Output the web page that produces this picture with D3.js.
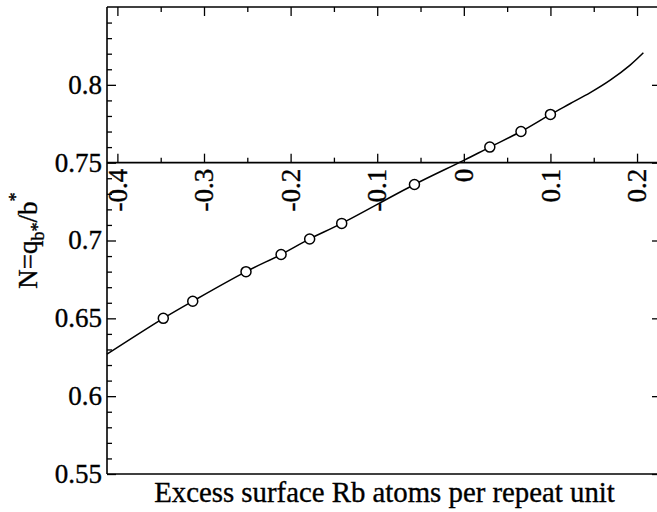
<!DOCTYPE html>
<html>
<head>
<meta charset="utf-8">
<script src="https://cdn.jsdelivr.net/npm/d3@7"></script>
<style>
  html, body { margin: 0; padding: 0; background: #fff; }
  svg { display: block; }
</style>
</head>
<body>
<svg width="657" height="512"></svg>
<script>
// fitted curve
const lineX = [-0.412, -0.347, -0.313, -0.2515, -0.211, -0.178, -0.141, -0.057, 0, 0.030, 0.066, 0.100, 0.123, 0.146, 0.169, 0.192, 0.2073];
const lineY = [0.627, 0.650, 0.661, 0.680, 0.691, 0.701, 0.711, 0.736, 0.7515, 0.760, 0.770, 0.781, 0.788, 0.795, 0.803, 0.8127, 0.8206];

// computed points (circles)
const pointX = [-0.347, -0.313, -0.2515, -0.211, -0.178, -0.141, -0.057, 0.030, 0.066, 0.100];
const pointY = [0.650, 0.661, 0.680, 0.691, 0.701, 0.711, 0.736, 0.760, 0.770, 0.781];

// ticks
const xMajor = [-0.4, -0.3, -0.2, -0.1, 0, 0.1, 0.2];
const xTickLabels = ["-0.4", "-0.3", "-0.2", "-0.1", "0", "0.1", "0.2"];
const xMinor = [-0.35, -0.25, -0.15, -0.05, 0.05, 0.15];
const yMajor = [0.55, 0.6, 0.65, 0.7, 0.75, 0.8];
const yTickLabels = ["0.55", "0.6", "0.65", "0.7", "0.75", "0.8"];
const yMinor = [0.56, 0.57, 0.58, 0.59, 0.61, 0.62, 0.63, 0.64, 0.66, 0.67, 0.68, 0.69,
                0.71, 0.72, 0.73, 0.74, 0.76, 0.77, 0.78, 0.79, 0.81, 0.82, 0.83, 0.84];

const serif = '"Liberation Serif", "Times New Roman", serif';
const svg = d3.select("svg");
const pLeft = 107, pRight = 658, pTop = 7, pBottom = 474;

const x = d3.scaleLinear().domain([-0.412, 0.2242]).range([pLeft, pRight]);
const y = d3.scaleLinear().domain([0.55, 0.85]).range([pBottom, pTop]);
const yAxisPos = y(0.75);

function plain(g) {
    g.select(".domain").remove();
    g.selectAll(".tick line").attr("stroke", "#000").attr("stroke-width", 1.3);
    g.selectAll(".tick text").remove();
}

// slightly heavier glyphs, like the scanned original
function ink(sel) {
    sel.style("font-family", serif)
        .attr("fill", "#000")
        .attr("stroke", "#000")
        .attr("stroke-width", 0.35);
}

// left axis ticks (pointing inward)
svg.append("g")
    .attr("transform", `translate(${pLeft},0)`)
    .call(d3.axisLeft(y).tickValues(yMinor).tickSize(-5))
    .call(plain);
svg.append("g")
    .attr("transform", `translate(${pLeft},0)`)
    .call(d3.axisLeft(y).tickValues(yMajor).tickSize(-9))
    .call(plain);

svg.append("g").selectAll("text")
    .data(yMajor)
    .join("text")
    .attr("x", pLeft - 5)
    .attr("y", d => y(d))
    .attr("dy", "0.33em")
    .attr("text-anchor", "end")
    .style("font-size", "27px")
    .call(ink)
    .text((d, i) => yTickLabels[i]);

// right axis, majors only
svg.append("g")
    .attr("transform", `translate(${pRight},0)`)
    .call(d3.axisRight(y).tickValues(yMajor).tickSize(-6))
    .call(plain);

// top ticks
svg.append("g")
    .attr("transform", `translate(0,${pTop})`)
    .call(d3.axisTop(x).tickValues(xMinor).tickSize(-5))
    .call(plain);
svg.append("g")
    .attr("transform", `translate(0,${pTop})`)
    .call(d3.axisTop(x).tickValues(xMajor).tickSize(-9))
    .call(plain);

// x axis drawn across the middle at 0.75
svg.append("g")
    .attr("transform", `translate(0,${yAxisPos})`)
    .call(d3.axisTop(x).tickValues(xMinor).tickSize(5))
    .call(plain);
svg.append("g")
    .attr("transform", `translate(0,${yAxisPos})`)
    .call(d3.axisTop(x).tickValues(xMajor).tickSize(9))
    .call(plain);

svg.append("g").selectAll("text")
    .data(xMajor)
    .join("text")
    .attr("transform", d => `translate(${x(d)},${yAxisPos + 6}) rotate(-90)`)
    .attr("text-anchor", "end")
    .attr("dy", "0.34em")
    .style("font-size", "27px")
    .call(ink)
    .text((d, i) => xTickLabels[i]);

// frame lines
const frame = svg.append("g").attr("stroke", "#000").attr("stroke-width", 1.6).attr("fill", "none");
frame.append("line").attr("x1", pLeft).attr("x2", pLeft).attr("y1", pTop).attr("y2", pBottom);
frame.append("line").attr("x1", pLeft).attr("x2", pRight).attr("y1", pTop).attr("y2", pTop);
frame.append("line").attr("x1", pLeft).attr("x2", pRight).attr("y1", pBottom).attr("y2", pBottom);
frame.append("line").attr("x1", pRight).attr("x2", pRight).attr("y1", pTop).attr("y2", pBottom);
frame.append("line").attr("x1", pLeft).attr("x2", pRight).attr("y1", yAxisPos).attr("y2", yAxisPos);

// curve
const line = d3.line()
    .x((d, i) => x(lineX[i]))
    .y(d => y(d))
    .curve(d3.curveCatmullRom);

svg.append("path")
    .attr("d", line(lineY))
    .attr("fill", "none")
    .attr("stroke", "#000")
    .attr("stroke-width", 1.5);

// points
svg.append("g").selectAll("circle")
    .data(pointX)
    .join("circle")
    .attr("cx", d => x(d))
    .attr("cy", (d, i) => y(pointY[i]))
    .attr("r", 5)
    .attr("fill", "#fff")
    .attr("stroke", "#000")
    .attr("stroke-width", 1.5);

// axis titles
svg.append("text")
    .attr("x", (pLeft + pRight) / 2 + 2)
    .attr("y", 502)
    .attr("text-anchor", "middle")
    .style("font-size", "28.8px")
    .call(ink)
    .text("Excess surface Rb atoms per repeat unit");

const yTitle = svg.append("text")
    .attr("transform", `translate(37,${(pTop + pBottom) / 2}) rotate(-90)`)
    .attr("text-anchor", "middle")
    .style("font-size", "27px")
    .call(ink);
yTitle.append("tspan").text("N=q");
yTitle.append("tspan").style("font-size", "18px").attr("dy", 7).text("b*");
yTitle.append("tspan").attr("dy", -7).text("/b");
yTitle.append("tspan").style("font-size", "18px").attr("dy", -15).text("*");
</script>
</body>
</html>
